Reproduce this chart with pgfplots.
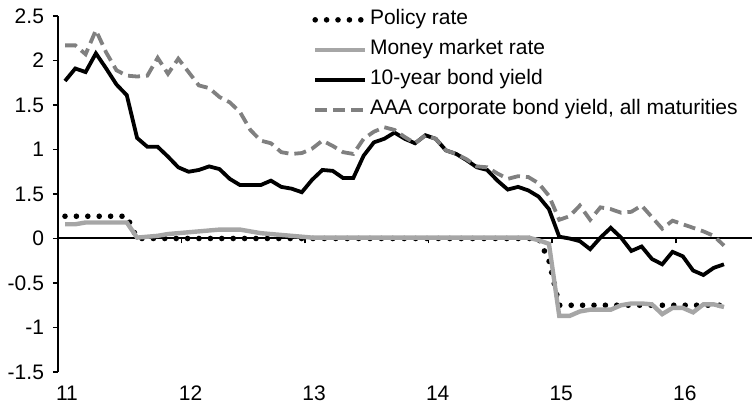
\documentclass[border=0pt]{standalone}
\usepackage{fontspec}
\setmainfont{Liberation Sans}
\usepackage{pgfplots}
\usepackage{pgfplotstable}
\pgfplotsset{compat=1.18}

\definecolor{mmgray}{RGB}{166,166,166}
\definecolor{aaagray}{RGB}{128,128,128}

% monthly data, k = months since Jan 2011
\pgfplotstableread{
k pol mm ten aaa
0 0.25 0.16 1.77 2.17
1 0.25 0.16 1.91 2.17
2 0.25 0.18 1.87 2.07
3 0.25 0.18 2.08 2.34
4 0.25 0.18 1.91 2.09
5 0.25 0.18 1.73 1.89
6 0.25 0.18 1.61 1.83
7 0.00 0.01 1.13 1.82
8 0.00 0.02 1.03 1.83
9 0.00 0.03 1.03 2.03
10 0.00 0.05 0.92 1.85
11 0.00 0.06 0.80 2.02
12 0.00 0.07 0.75 1.87
13 0.00 0.08 0.77 1.72
14 0.00 0.09 0.81 1.69
15 0.00 0.10 0.78 1.59
16 0.00 0.10 0.67 1.53
17 0.00 0.10 0.60 1.42
18 0.00 0.08 0.60 1.22
19 0.00 0.06 0.60 1.10
20 0.00 0.05 0.65 1.07
21 0.00 0.04 0.58 0.97
22 0.00 0.03 0.56 0.95
23 0.00 0.02 0.52 0.96
24 0.00 0.01 0.66 1.01
25 0.00 0.01 0.77 1.10
26 0.00 0.01 0.76 1.04
27 0.00 0.01 0.68 0.97
28 0.00 0.01 0.68 0.95
29 0.00 0.01 0.93 1.12
30 0.00 0.01 1.08 1.20
31 0.00 0.01 1.12 1.25
32 0.00 0.01 1.19 1.22
33 0.00 0.01 1.12 1.14
34 0.00 0.01 1.07 1.07
35 0.00 0.01 1.16 1.16
36 0.00 0.01 1.12 1.12
37 0.00 0.01 0.99 0.99
38 0.00 0.01 0.95 0.95
39 0.00 0.01 0.88 0.89
40 0.00 0.01 0.80 0.81
41 0.00 0.01 0.77 0.80
42 0.00 0.01 0.65 0.73
43 0.00 0.01 0.55 0.67
44 0.00 0.01 0.58 0.70
45 0.00 0.01 0.54 0.69
46 0.00 -0.02 0.47 0.62
47 -0.25 -0.06 0.33 0.48
48 -0.75 -0.87 0.02 0.21
49 -0.75 -0.87 0.00 0.25
50 -0.75 -0.82 -0.03 0.37
51 -0.75 -0.80 -0.12 0.21
52 -0.75 -0.80 0.01 0.35
53 -0.75 -0.80 0.12 0.33
54 -0.75 -0.75 0.01 0.29
55 -0.75 -0.73 -0.14 0.30
56 -0.75 -0.73 -0.09 0.37
57 -0.75 -0.74 -0.23 0.24
58 -0.75 -0.85 -0.29 0.11
59 -0.75 -0.78 -0.15 0.20
60 -0.75 -0.78 -0.20 0.16
61 -0.75 -0.83 -0.36 0.12
62 -0.75 -0.74 -0.41 0.08
63 -0.75 -0.74 -0.33 0.03
64 -0.75 -0.77 -0.29 -0.08
}\rates

\begin{document}
\begin{tikzpicture}
\begin{axis}[
  name=ax,
  scale only axis, width=347pt, height=178pt,
  xmin=0, xmax=67.4, ymin=-1.5, ymax=2.5,
  axis x line=middle, axis y line=left,
  axis line style={-, line width=1pt},
  hide obscured x ticks=false,
  xtick={0,12,24,36,48,60}, xticklabels={11,12,13,14,15,16},
  ytick={-1.5,-1,-0.5,0,0.5,1,1.5,2,2.5},
  yticklabels={-1.5,-1,-0.5,0,1.5,1,1.5,2,2.5},
  tick align=outside, major tick length=2.5pt,
  tick style={black, line width=0.8pt},
  ticklabel style={font=\fontsize{10.5}{12}\selectfont},
  xticklabel style={anchor=north, yshift=-67.5pt, xshift=4.5pt},
  yticklabel style={xshift=-1pt},
  legend style={draw=none, fill=none, inner sep=0pt,
    at={(0.366,1.024)}, anchor=north west,
    font=\fontsize{10.5}{12}\selectfont, row sep=3pt,
    nodes={text height=7.5pt, text depth=2.5pt, inner sep=1pt}},
  legend cell align=left,
  legend image code/.code={\draw[#1] (0pt,0pt) -- (25pt,0pt);},
  clip=false,
]
\addplot[black, line width=2.8pt, line cap=round, dash pattern=on 0pt off 5.7pt]
  table[x expr=\thisrow{k}+0.68, y=pol] {\rates};
\addlegendentry{Policy rate}
\addplot[mmgray, line width=2.2pt]
  table[x expr=\thisrow{k}+0.68, y=mm] {\rates};
\addlegendentry{Money market rate}
\addplot[black, line width=1.9pt]
  table[x expr=\thisrow{k}+0.68, y=ten] {\rates};
\addlegendentry{10-year bond yield}
\addplot[aaagray, line width=1.9pt, dash pattern=on 6pt off 3pt]
  table[x expr=\thisrow{k}+0.68, y=aaa] {\rates};
\addlegendentry{AAA corporate bond yield, all maturities}
\end{axis}
\pgfresetboundingbox
\path[use as bounding box] ([xshift=-29pt,yshift=-16pt]ax.south west) rectangle ([yshift=8pt]ax.north east);
\end{tikzpicture}
\end{document}
